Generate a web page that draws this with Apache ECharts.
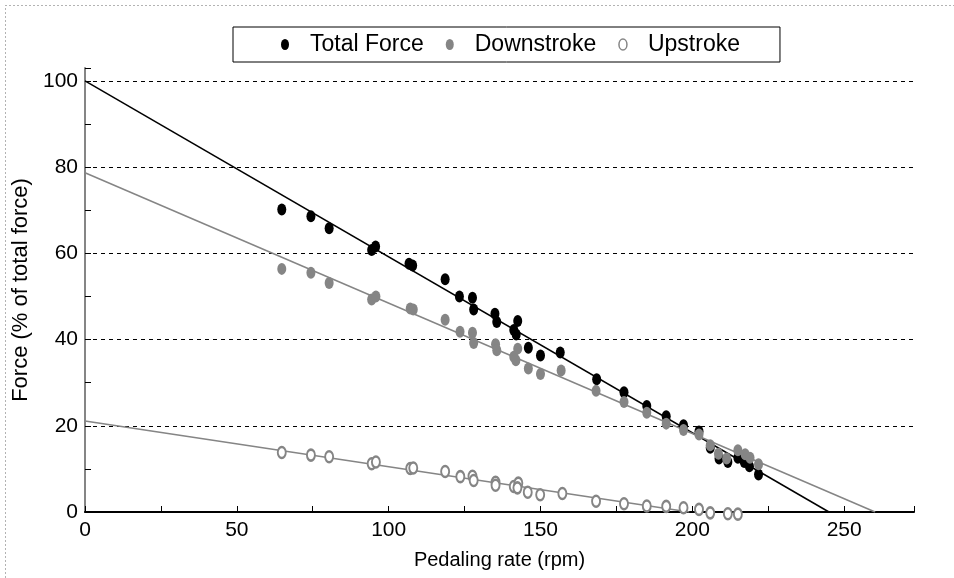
<!DOCTYPE html>
<html><head><meta charset="utf-8">
<script src="https://cdn.jsdelivr.net/npm/echarts@6/dist/echarts.min.js"></script>
<style>html,body{margin:0;padding:0;background:#fff}#c{width:954px;height:578px}</style>
</head><body><div id="c"></div>
<script>
// Total force (rpm, % of total force)
const totalX = [64.8,74.4,80.4,94.4,95.7,106.7,107.9,118.6,123.3,127.6,128.0,135.0,135.6,142.5,141.2,142.0,146.0,150.0,156.5,168.5,177.5,185.0,191.4,197.1,202.2,205.9,208.8,211.7,215.0,217.1,218.8,221.8];
const totalY = [70.2,68.6,65.8,60.8,61.6,57.6,57.2,54.0,50.0,49.7,47.0,46.0,44.1,44.3,42.2,41.2,38.1,36.3,37.0,30.8,27.8,24.6,22.2,20.1,18.7,14.9,12.4,11.6,12.6,11.6,10.6,8.7];
// Downstroke
const downX = [64.8,74.4,80.4,94.4,95.8,107.1,108.1,118.6,123.5,127.6,128.0,135.2,135.6,141.2,141.9,142.5,146.0,150.0,156.8,168.3,177.5,185.0,191.4,197.1,202.2,205.9,208.6,211.3,215.0,217.4,219.0,221.8];
const downY = [56.4,55.5,53.1,49.3,50.0,47.2,47.0,44.6,41.8,41.6,39.2,38.9,37.5,36.0,35.2,37.9,33.3,32.0,32.8,28.1,25.5,23.0,20.5,19.0,18.0,15.5,13.5,12.4,14.3,13.4,12.6,11.1];
// Upstroke
const upX = [64.8,74.4,80.4,94.4,95.8,107.1,108.1,118.6,123.6,127.6,128.0,135.2,135.2,141.2,142.7,142.4,145.8,149.9,157.2,168.3,177.5,185.0,191.4,197.1,202.2,205.9,211.7,215.0];
const upY = [13.8,13.2,12.8,11.2,11.6,10.1,10.2,9.4,8.2,8.3,7.3,6.9,6.2,5.9,6.7,5.6,4.6,4.0,4.3,2.5,1.9,1.4,1.3,1.0,0.6,-0.2,-0.4,-0.5];
// Regression lines (endpoints)
const totalFit = [[0,100],[245,0]];
const downFit = [[0,78.7],[260.2,0]];
const upFit = [[0,21.1],[199,0]];
const seriesNames = ['Total Force','Downstroke','Upstroke'];
const xName = 'Pedaling rate (rpm)';
const yName = 'Force (% of total force)';

const zip = (a,b) => a.map((v,i)=>[v,b[i]]);
const FONT = '"Liberation Sans",Arial,sans-serif';
const GRAY = '#858585';
const ELLIPSE = 'path://M4,0 A4,5.5 0 1,1 4,11 A4,5.5 0 1,1 4,0 Z';

const chart = echarts.init(document.getElementById('c'));
chart.setOption({
  animation: false,
  textStyle: {fontFamily: FONT},
  grid: {left: 85, right: 40, top: 68, bottom: 66},
  legend: {
    top: 27, left: 233,
    padding: [6, 40, 6, 48],
    borderColor: '#000', borderWidth: 1,
    itemGap: 22, itemWidth: 40, itemHeight: 11, symbolKeepAspect: true,
    textStyle: {fontSize: 23, color: '#000', fontFamily: FONT},
    data: [
      {name: seriesNames[0], icon: ELLIPSE, itemStyle: {color: '#000', borderWidth: 0}},
      {name: seriesNames[1], icon: ELLIPSE, itemStyle: {color: GRAY, borderWidth: 0}},
      {name: seriesNames[2], icon: ELLIPSE, itemStyle: {color: '#fff', borderColor: GRAY, borderWidth: 1.5}}
    ]
  },
  graphic: [{
    type: 'rect', silent: true, z: -1,
    shape: {x: 5.5, y: 5.5, width: 1200, height: 1200},
    style: {fill: 'none', stroke: '#666', lineWidth: 1, lineDash: [1, 3]}
  }],
  xAxis: {
    type: 'value', min: 0, max: 273, interval: 50,
    name: xName, nameLocation: 'middle', nameGap: 38,
    nameTextStyle: {fontSize: 20, color: '#000', fontFamily: FONT},
    axisLine: {show: true, onZero: false, lineStyle: {color: '#000', width: 2}},
    axisTick: {show: true, inside: true, length: 6, lineStyle: {color: '#000', width: 1}},
    minorTick: {show: true, splitNumber: 2, length: 6, lineStyle: {color: '#000', width: 1}},
    axisLabel: {fontSize: 21, color: '#000', margin: 8, showMaxLabel: false, fontFamily: FONT},
    splitLine: {show: false}
  },
  yAxis: {
    type: 'value', min: 0, max: 103, interval: 20,
    name: yName, nameLocation: 'middle', nameGap: 36, nameRotate: 90,
    nameTextStyle: {fontSize: 22, color: '#000', fontFamily: FONT},
    axisLine: {show: true, onZero: false, lineStyle: {color: GRAY, width: 2}},
    axisTick: {show: true, inside: true, length: 6, lineStyle: {color: '#000', width: 1}},
    minorTick: {show: true, splitNumber: 2, length: 6, lineStyle: {color: '#000', width: 1}},
    axisLabel: {fontSize: 21, color: '#000', margin: 7, showMaxLabel: false, fontFamily: FONT},
    splitLine: {show: true, showMaxLine: false, showMinLine: false, lineStyle: {color: '#000', width: 1, type: [4, 4]}}
  },
  series: [
    {name: 'fitTotal', type: 'line', data: totalFit, symbol: 'none', silent: true, z: 1,
      lineStyle: {color: '#000', width: 1.5}},
    {name: 'fitDown', type: 'line', data: downFit, symbol: 'none', silent: true, z: 1,
      lineStyle: {color: GRAY, width: 1.5}},
    {name: 'fitUp', type: 'line', data: upFit, symbol: 'none', silent: true, z: 1,
      lineStyle: {color: GRAY, width: 1.5}},
    {name: seriesNames[0], type: 'scatter', data: zip(totalX, totalY), symbol: 'circle', symbolSize: [9, 12], z: 2,
      itemStyle: {color: '#000', opacity: 1}},
    {name: seriesNames[1], type: 'scatter', data: zip(downX, downY), symbol: 'circle', symbolSize: [9, 12], z: 3,
      itemStyle: {color: GRAY, opacity: 1}},
    {name: seriesNames[2], type: 'scatter', data: zip(upX, upY), symbol: 'circle', symbolSize: [8, 11], z: 4, clip: false,
      itemStyle: {color: '#fff', borderColor: GRAY, borderWidth: 2.2, opacity: 1}}
  ]
});
</script>
</body></html>
